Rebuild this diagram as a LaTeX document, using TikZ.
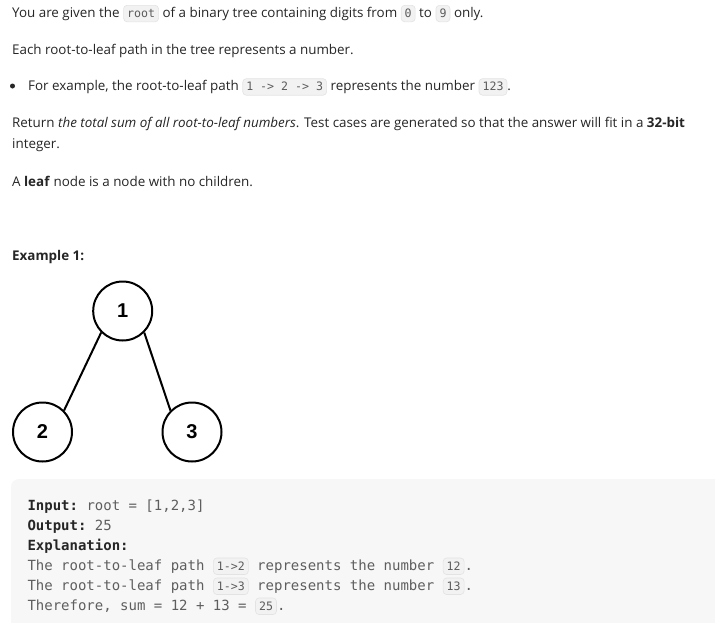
\documentclass[tikz,border=0pt]{standalone}
\usepackage{fontspec}
\usepackage{tikz}
\setmainfont{Open Sans}
\setmonofont{DejaVu Sans Mono}
\newfontfamily\treefont{Liberation Sans}

\definecolor{textc}{HTML}{262626}
\definecolor{codetext}{HTML}{5C5C5C}
\definecolor{codebg}{HTML}{F2F2F2}
\definecolor{codeline}{HTML}{E3E3E3}
\definecolor{blockbg}{HTML}{F7F7F7}
\definecolor{blocktext}{HTML}{5E5E5E}

\begin{document}
\begin{tikzpicture}[x=1pt,y=-1pt,
    txt/.style={anchor=base west,inner sep=0pt,text=textc,font=\fontsize{13.4}{16}\selectfont},
    code/.style={anchor=base west,inner xsep=3.5pt,inner ysep=0pt,text height=12pt,text depth=4.5pt,
        fill=codebg,draw=codeline,line width=.6pt,rounded corners=3.5pt,text=codetext,
        font=\ttfamily\fontsize{11.6}{13}\selectfont},
    blk/.style={anchor=base west,inner sep=0pt,text=blocktext,font=\ttfamily\fontsize{14}{17}\selectfont},
    treenode/.style={circle,draw,line width=2pt,minimum size=59pt,inner sep=0pt,
        font=\treefont\bfseries\fontsize{20}{24}\selectfont}]
    \useasboundingbox[fill=white] (0,0) rectangle (715,622);
    % text above the example
    \node[txt] (l1a) at (12,17.3) {You are given the};
    \node[code] (l1b) at ([xshift=3.5]l1a.base east) {root};
    \node[txt] (l1c) at ([xshift=3.5]l1b.base east) {of a binary tree containing digits from};
    \node[code] (l1d) at ([xshift=3.5]l1c.base east) {0};
    \node[txt] (l1e) at ([xshift=3.5]l1d.base east) {to};
    \node[code] (l1f) at ([xshift=3.5]l1e.base east) {9};
    \node[txt] (l1g) at ([xshift=3.5]l1f.base east) {only.};
    \node[txt] (l2) at (12,54.3) {Each root-to-leaf path in the tree represents a number.};
    \node[circle,fill=textc,inner sep=0pt,minimum size=5pt] (bul) at (12.5,86) {};
    \node[txt] (l3a) at (28,90.7) {For example, the root-to-leaf path};
    \node[code] (l3b) at ([xshift=3.5]l3a.base east) {1 -> 2 -> 3};
    \node[txt] (l3c) at ([xshift=3.5]l3b.base east) {represents the number};
    \node[code] (l3d) at ([xshift=3.5]l3c.base east) {123};
    \node[txt] (l3e) at (l3d.base east) {.};
    \node[txt] (l4) at (12,127.5) {Return \textit{the total sum of all root-to-leaf numbers}. Test cases are generated so that the answer will fit in a \textbf{32-bit}};
    \node[txt] (l5) at (12,148.5) {integer.};
    \node[txt] (l6) at (12,186.5) {A \textbf{leaf} node is a node with no children.};
    \node[txt] (ex) at (12,260) {\textbf{Example 1:}};
    % the tree
    \node[treenode] (n1) at (122.7,311) {1};
    \node[treenode] (n2) at (42.5,432) {2};
    \node[treenode] (n3) at (192,432) {3};
    \draw[line width=2pt] (n1.south west) -- (n2.north east);
    \draw[line width=2pt] (n1.south east) -- (n3.north west);
    % example block
    \fill[blockbg,rounded corners=8pt] (11,479) rectangle (730,640);
    \node[blk] (in) at (27.3,510) {\textbf{\color{textc}Input:} root = [1,2,3]};
    \node[blk] (out) at (27.3,530) {\textbf{\color{textc}Output:} 25};
    \node[blk] (expl) at (27.3,550) {\textbf{\color{textc}Explanation:}};
    \node[blk] (e1a) at (27.3,570) {The root-to-leaf path};
    \node[code] (e1b) at ([xshift=8.4]e1a.base east) {1->2};
    \node[blk] (e1c) at ([xshift=8.4]e1b.base east) {represents the number};
    \node[code] (e1d) at ([xshift=8.4]e1c.base east) {12};
    \node[blk] (e1e) at (e1d.base east) {.};
    \node[blk] (e2a) at (27.3,590) {The root-to-leaf path};
    \node[code] (e2b) at ([xshift=8.4]e2a.base east) {1->3};
    \node[blk] (e2c) at ([xshift=8.4]e2b.base east) {represents the number};
    \node[code] (e2d) at ([xshift=8.4]e2c.base east) {13};
    \node[blk] (e2e) at (e2d.base east) {.};
    \node[blk] (e3a) at (27.3,610) {Therefore, sum = 12 + 13 =};
    \node[code] (e3b) at ([xshift=8.4]e3a.base east) {25};
    \node[blk] (e3c) at (e3b.base east) {.};
\end{tikzpicture}
\end{document}
